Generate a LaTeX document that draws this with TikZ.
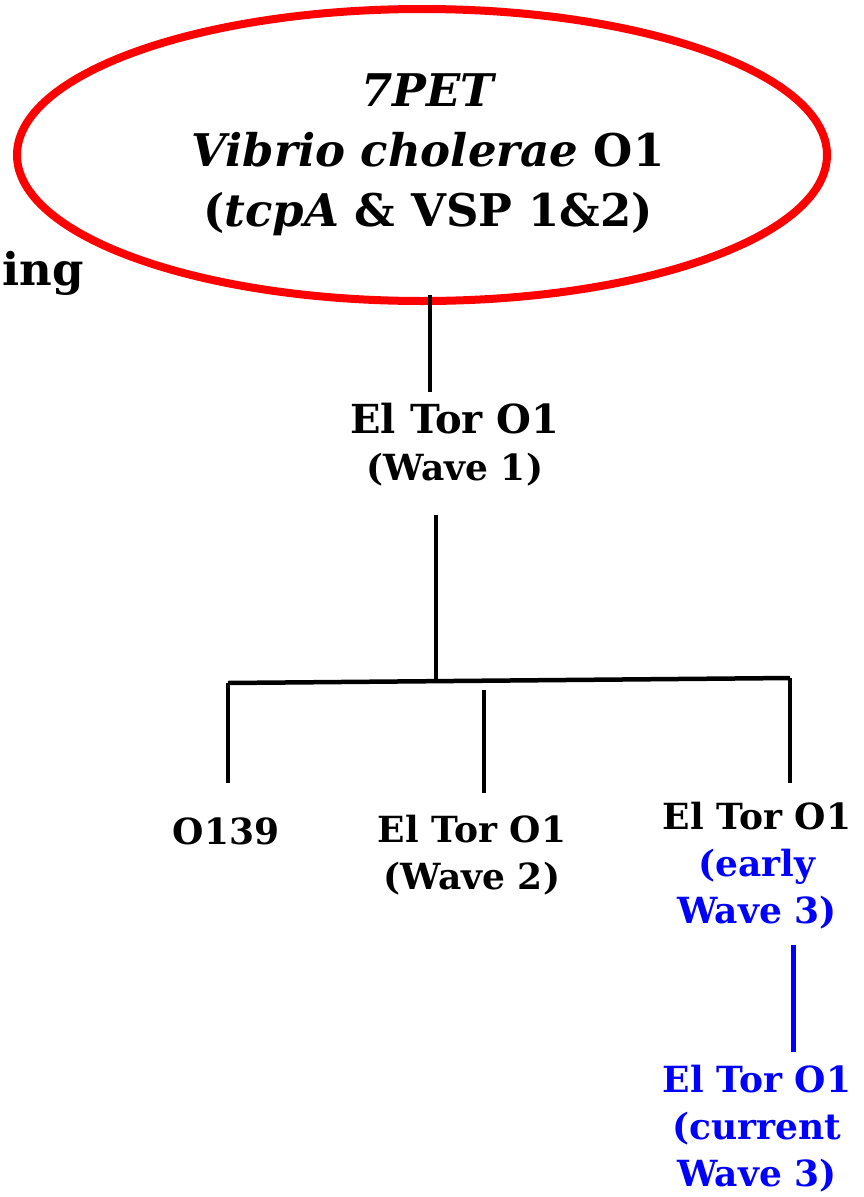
\documentclass[tikz,border=0pt]{standalone}
\usepackage{fontspec}
\setmainfont{DejaVu Serif}
\usetikzlibrary{shapes.geometric}
\definecolor{treeblue}{RGB}{0,0,255}
\definecolor{treered}{RGB}{255,0,0}
\tikzset{
  lbl/.style={inner sep=0pt, align=center, font=\bfseries\fontsize{36}{47}\selectfont},
  toplbl/.style={inner sep=0pt, align=center, font=\bfseries\fontsize{45}{60}\selectfont},
  branch/.style={line width=4.5pt, black},
  bluebranch/.style={line width=5pt, treeblue},
}
\begin{document}
\begin{tikzpicture}[x=1pt,y=-1pt]
\useasboundingbox (0,0) rectangle (863,1197);
% root ellipse
\node[draw=treered, line width=8pt, ellipse, minimum width=810pt, minimum height=292pt, inner sep=0pt] (root) at (422,155) {};
\node[toplbl] (roottxt) at (428,155) {\itshape 7PET\\{\itshape Vibrio cholerae} O1\\({\itshape tcpA} \& VSP 1\&2)};
% clipped word at left
\node[lbl, anchor=base east, font=\bfseries\fontsize{45}{50}\selectfont] (ing) at (84,285) {ing};
% level 1
\node[lbl] (w1) at (455,445) {{\fontsize{40}{48}\selectfont El Tor O1}\\(Wave 1)};
% level 2
\node[lbl, anchor=north] (o139) at (226,818) {O139};
\node[lbl, anchor=north] (w2) at (472,815) {El Tor O1\\(Wave 2)};
\node[lbl, anchor=north] (w3e) at (757,802) {El Tor O1\\\textcolor{treeblue}{(early}\\\textcolor{treeblue}{Wave 3)}};
% level 3
\node[lbl, anchor=north, text=treeblue] (w3c) at (757,1065) {El Tor O1\\(current\\Wave 3)};
% connector coordinates
\coordinate (r1) at (430,295);
\coordinate (r2) at (430,392);
\coordinate (s1) at (436,515);
\coordinate (s2) at (436,681);
\coordinate (hl) at (228,683);
\coordinate (hr) at (790,678);
\coordinate (l1) at (228,783);
\coordinate (m0) at (484,690);
\coordinate (m1) at (484,793);
\coordinate (rr1) at (790,783);
\coordinate (b0) at (793,945);
\coordinate (b1) at (793,1052);
% connectors
\draw[branch] (r1) -- (r2);
\draw[branch] (s1) -- (s2);
\draw[branch] (hl) -- (hr);
\draw[branch] (hl) -- (l1);
\draw[branch] (m0) -- (m1);
\draw[branch] (hr) -- (rr1);
\draw[bluebranch] (b0) -- (b1);
\end{tikzpicture}
\end{document}
